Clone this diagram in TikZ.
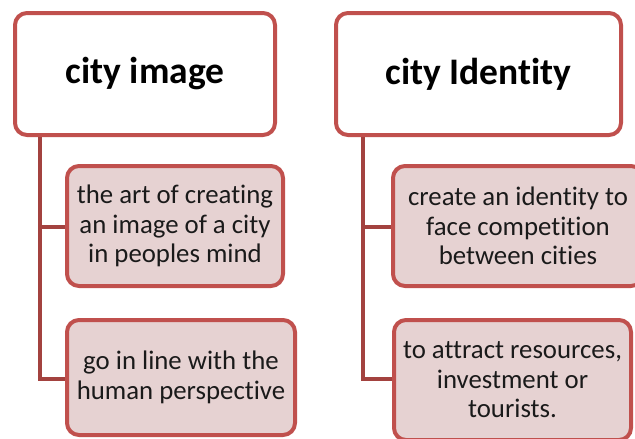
\documentclass[tikz,border=0pt]{standalone}
\usepackage{fontspec}
\setmainfont{Carlito}[Ligatures=NoCommon]
\definecolor{bord}{HTML}{C0504D}
\definecolor{conncol}{HTML}{A3423F}
\definecolor{childfill}{HTML}{E6D2D2}
\definecolor{txt}{HTML}{1A1A1A}
\tikzset{
  titlebox/.style={draw=bord, line width=4pt, rounded corners=12pt, fill=white,
    align=center, font=\fontsize{37.5}{42}\selectfont\bfseries, text=black, inner sep=0pt},
  childbox/.style={draw=bord, line width=4pt, rounded corners=12pt, fill=childfill,
    align=center, font=\fontsize{26.8}{29.5}\selectfont, text=txt, inner sep=0pt},
  conn/.style={draw=conncol, line width=4.5pt}
}
\begin{document}
\begin{tikzpicture}[x=1pt,y=-1pt]
\useasboundingbox (0,0) rectangle (635,439);
\clip (0,0) rectangle (635,439);
\coordinate (s1) at (40,136);
\coordinate (s2) at (363,136);
\coordinate (c11w) at (67,227);
\coordinate (c12w) at (67,379);
\coordinate (c21w) at (394,227);
\coordinate (c22w) at (394,379);
\draw[conn] (s1) |- (c11w);
\draw[conn] (s1) |- (c12w);
\draw[conn] (s2) |- (c21w);
\draw[conn] (s2) |- (c22w);
\node[titlebox, minimum width=260pt, minimum height=122pt] (t1) at (145,74) {city image};
\node[titlebox, minimum width=285pt, minimum height=122pt] (t2) at (478.5,74) {city Identity};
\node[childbox, minimum width=216pt, minimum height=120pt] (c11) at (175,226) {the art of creating\\an image of a city\\in peoples mind};
\node[childbox, minimum width=228pt, minimum height=115pt] (c12) at (181,377.5) {go in line with the\\human perspective};
\node[childbox, minimum width=250pt, minimum height=120pt] (c21) at (518,226) {create an identity to\\face competition\\between cities};
\node[childbox, minimum width=237pt, minimum height=120pt] (c22) at (512.5,380) {to attract resources,\\investment or\\tourists.};
\end{tikzpicture}
\end{document}
